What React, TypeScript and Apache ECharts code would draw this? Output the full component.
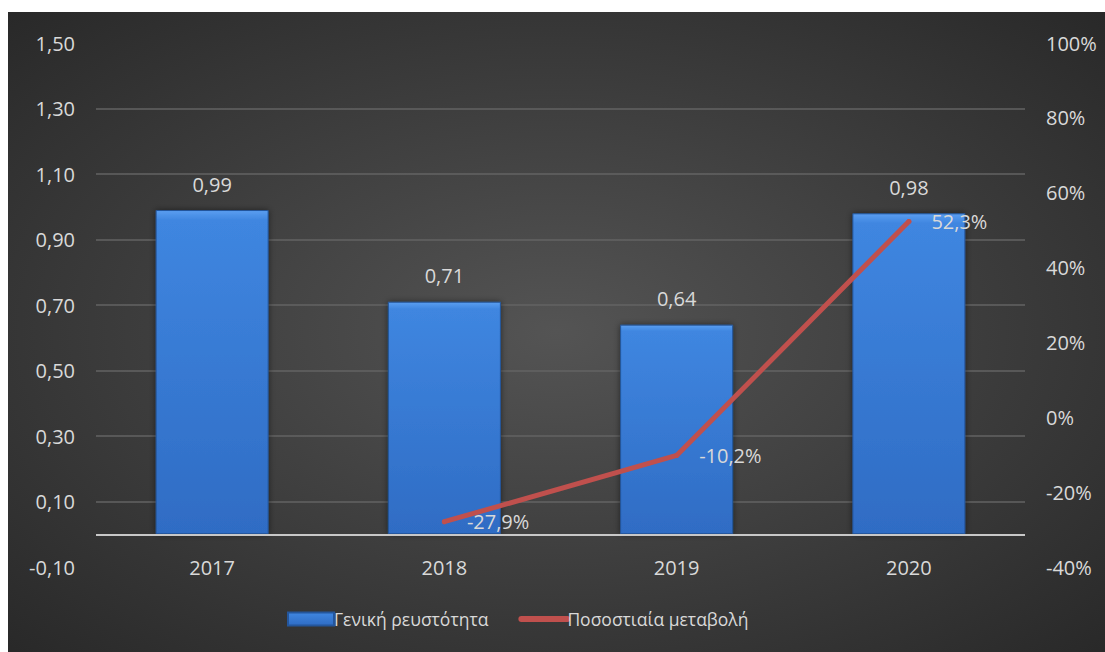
import React, { useEffect, useRef } from "react";
import * as echarts from "echarts";

const categories = ["2017", "2018", "2019", "2020"];
const liquidity = [0.99, 0.71, 0.64, 0.98];
const pctChange: (number | null)[] = [null, -27.9, -10.2, 52.3];
const barName = "Γενική ρευστότητα";
const lineName = "Ποσοστιαία μεταβολή";

const FONT = "'Open Sans', 'Noto Sans', sans-serif";
const TEXT = "#d9d9d9";

export default function App() {
  const ref = useRef<HTMLDivElement>(null);
  useEffect(() => {
    if (!ref.current) return;
    const chart = echarts.init(ref.current, null, { renderer: "svg" });
    chart.setOption({
      animation: false,
      backgroundColor: {
        type: "radial",
        x: 0.5,
        y: 0.5,
        r: 0.75,
        colorStops: [
          { offset: 0, color: "#545454" },
          { offset: 1, color: "#262626" },
        ],
      },
      textStyle: { fontFamily: FONT },
      grid: { left: 88, right: 80, top: 31, bottom: 85 },
      legend: {
        left: 274,
        top: 593,
        itemWidth: 46,
        itemHeight: 13,
        itemGap: 30,
        textStyle: { color: TEXT, fontSize: 17.5, fontFamily: FONT, padding: [0, 0, 0, -5] },
        data: [
          { name: barName, icon: "rect" },
          {
            name: lineName,
            itemStyle: { opacity: 0 },
            lineStyle: { width: 6, cap: "round", color: "#c0504d" },
          },
        ],
      },
      xAxis: {
        type: "category",
        data: categories,
        axisLine: { show: false, onZero: false },
        axisTick: { show: false },
        axisLabel: { color: TEXT, fontSize: 20, margin: -10, fontFamily: FONT },
      },
      yAxis: [
        {
          type: "value",
          min: -0.1,
          max: 1.5,
          interval: 0.2,
          axisLine: { show: false },
          axisTick: { show: false },
          axisLabel: {
            color: TEXT,
            fontSize: 20,
            margin: 21,
            fontFamily: FONT,
            formatter: (v: number) => v.toFixed(2).replace(".", ","),
          },
          splitLine: {
            show: true,
            showMinLine: false,
            showMaxLine: false,
            lineStyle: { color: "#636363", width: 1.5 },
          },
        },
        {
          type: "value",
          min: -40,
          max: 100,
          interval: 20,
          position: "right",
          axisLine: { show: false },
          axisTick: { show: false },
          splitLine: { show: false },
          axisLabel: {
            color: TEXT,
            fontSize: 20,
            margin: 21,
            fontFamily: FONT,
            formatter: (v: number) => Math.round(v) + "%",
          },
        },
      ],
      series: [
        {
          name: barName,
          type: "bar",
          data: liquidity,
          barWidth: 113,
          itemStyle: {
            color: {
              type: "linear",
              x: 0,
              y: 0,
              x2: 0,
              y2: 1,
              colorStops: [
                { offset: 0, color: "#5a9ef0" },
                { offset: 0.03, color: "#3f86e0" },
                { offset: 1, color: "#2f6cc4" },
              ],
            },
            borderColor: "#24569c",
            borderWidth: 1,
            shadowColor: "rgba(0,0,0,0.5)",
            shadowBlur: 6,
          },
          label: {
            show: true,
            position: "top",
            distance: 16,
            color: TEXT,
            fontSize: 20,
            fontFamily: FONT,
            formatter: (p: any) => Number(p.value).toFixed(2).replace(".", ","),
          },
          markLine: {
            silent: true,
            symbol: "none",
            label: { show: false },
            lineStyle: { color: "#c8c8c8", width: 2, type: "solid" },
            data: [{ yAxis: 0 }],
            z: 4,
          },
        },
        {
          name: lineName,
          type: "line",
          yAxisIndex: 1,
          data: pctChange,
          symbol: "circle",
          symbolSize: 5,
          itemStyle: { color: "#c0504d" },
          lineStyle: { color: "#c0504d", width: 5, cap: "round", join: "round" },
          label: {
            show: true,
            position: "right",
            distance: 20,
            color: TEXT,
            fontSize: 20,
            fontFamily: FONT,
            formatter: (p: any) =>
              p.value == null ? "" : Number(p.value).toFixed(1).replace(".", ",") + "%",
          },
          z: 5,
        },
      ],
    });
    return () => chart.dispose();
  }, []);
  return (
    <div
      ref={ref}
      style={{ position: "absolute", left: 8, top: 12, width: 1097, height: 640 }}
    />
  );
}
